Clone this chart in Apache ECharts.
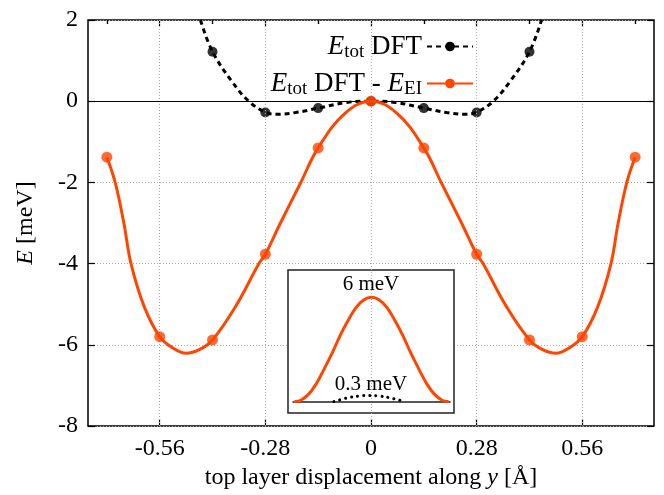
<!DOCTYPE html>
<html>
<head>
<meta charset="utf-8">
<script src="https://cdn.jsdelivr.net/npm/echarts@6/dist/echarts.min.js"></script>
<style>
html,body{margin:0;padding:0;background:#fff;}
#chart{width:664px;height:495px;}
</style>
</head>
<body>
<div id="chart"></div>
<script>
// tick labels / grid positions
var majorTicks = [-0.56, -0.28, 0, 0.28, 0.56];
var minorTicks = [-0.7, -0.42, -0.14, 0.14, 0.42, 0.7];

// computed points
var eiX   = [-0.70, -0.56, -0.42, -0.28, -0.14, 0, 0.14, 0.28, 0.42, 0.56, 0.70];
var eiY   = [-1.38, -5.80, -5.88, -3.77, -1.15, 0, -1.15, -3.77, -5.88, -5.80, -1.38];
var dftX  = [-0.42, -0.28, -0.14, 0, 0.14, 0.28, 0.42];
var dftY  = [1.22, -0.28, -0.17, 0, -0.17, -0.28, 1.22];

// fitted curves
var eiFitX  = [-0.70, -0.678, -0.655, -0.636, -0.601, -0.56, -0.525, -0.49, -0.455, -0.42, -0.359, -0.297, -0.28, -0.24, -0.187, -0.14, -0.069, 0,
               0.069, 0.14, 0.187, 0.24, 0.28, 0.297, 0.359, 0.42, 0.455, 0.49, 0.525, 0.56, 0.601, 0.636, 0.655, 0.678, 0.70];
var eiFitY  = [-1.38, -2.0, -3.0, -4.0, -5.06, -5.80, -6.08, -6.21, -6.12, -5.88, -5.06, -4.0, -3.77, -3.0, -2.02, -1.15, -0.30, 0,
               -0.30, -1.15, -2.02, -3.0, -3.77, -4.0, -5.06, -5.88, -6.12, -6.21, -6.08, -5.80, -5.06, -4.0, -3.0, -2.0, -1.38];
var dftFitX = [-0.452, -0.42, -0.368, -0.324, -0.28, -0.249, -0.2, -0.14, -0.064, 0, 0.064, 0.14, 0.2, 0.249, 0.28, 0.324, 0.368, 0.42, 0.452];
var dftFitY = [2.0, 1.22, 0.48, 0.0, -0.27, -0.32, -0.28, -0.17, -0.03, 0, -0.03, -0.17, -0.28, -0.32, -0.27, 0.0, 0.48, 1.22, 2.0];

// inset barriers
var insetEiX  = [-0.97, -0.9, -0.8, -0.7, -0.6, -0.5, -0.4, -0.3, -0.2, -0.1, 0, 0.1, 0.2, 0.3, 0.4, 0.5, 0.6, 0.7, 0.8, 0.9, 0.97];
var insetEiY  = [0, 0.08, 0.43, 1.05, 1.9, 2.8, 3.8, 4.65, 5.4, 5.85, 6.0, 5.85, 5.4, 4.65, 3.8, 2.8, 1.9, 1.05, 0.43, 0.08, 0];
var insetDftX = [-0.48, -0.32, -0.16, -0.03, 0.1, 0.25, 0.42];
var insetDftY = [0, 0.2, 0.32, 0.35, 0.32, 0.2, 0];

function pairs(xs, ys) {
    var out = [];
    for (var i = 0; i < xs.length; i++) out.push([xs[i], ys[i]]);
    return out;
}

var FONT = 'Liberation Serif';
var ORANGE = '#ff4500';
var rich = {
    i: {fontFamily: FONT, fontStyle: 'italic', fontSize: 27, color: '#000'},
    s: {fontFamily: FONT, fontSize: 19, color: '#000', padding: [11, 0, 0, 0]},
    n: {fontFamily: FONT, fontSize: 27, color: '#000'}
};
var legendNames = {
    'Etot DFT': '{i|E}{s|tot}{n| DFT}',
    'Etot DFT - EEI': '{i|E}{s|tot}{n| DFT - }{i|E}{s|EI}'
};
var titleRich = {
    n: {fontFamily: FONT, fontSize: 24, color: '#000'},
    i: {fontFamily: FONT, fontSize: 24, fontStyle: 'italic', color: '#000'}
};
var tick = {inside: true, length: 7, lineStyle: {color: '#000', width: 1.2}};
var minorTick = {inside: true, length: 4, lineStyle: {color: '#000', width: 1.2}};

var chart = echarts.init(document.getElementById('chart'));

var option = {
    animation: false,
    textStyle: {fontFamily: FONT, color: '#000'},
    grid: [
        {left: 88, right: 10, top: 20, bottom: 69, show: true, borderColor: '#000', borderWidth: 1.5},
        {left: 293, right: 214, top: 280, bottom: 83}
    ],
    legend: [
        {
            data: ['Etot DFT'], right: 185, top: 28, align: 'right',
            itemWidth: 46, itemHeight: 12, itemGap: 6,
            formatter: function (n) { return legendNames[n]; },
            textStyle: {rich: rich}
        },
        {
            data: ['Etot DFT - EEI'], right: 185, top: 65, align: 'right',
            itemWidth: 46, itemHeight: 12, itemGap: 6,
            formatter: function (n) { return legendNames[n]; },
            textStyle: {rich: rich}
        }
    ],
    xAxis: [
        {
            type: 'value', gridIndex: 0, min: -0.75, max: 0.75,
            axisLine: {show: false, onZero: false},
            axisTick: Object.assign({customValues: majorTicks}, tick),
            axisLabel: {customValues: majorTicks, fontSize: 24, fontFamily: FONT, color: '#000', margin: 11},
            splitLine: {show: false},
            name: '{n|top layer displacement along }{i|y}{n| [Å]}',
            nameLocation: 'middle', nameGap: 38,
            nameTextStyle: {rich: titleRich}
        },
        {
            type: 'value', gridIndex: 0, min: -0.75, max: 0.75,
            axisLine: {show: false, onZero: false},
            axisTick: Object.assign({customValues: minorTicks}, minorTick),
            axisLabel: {show: false}, splitLine: {show: false}
        },
        {
            type: 'value', gridIndex: 0, min: -0.75, max: 0.75, position: 'top',
            axisLine: {show: false, onZero: false},
            axisTick: Object.assign({customValues: majorTicks}, tick),
            axisLabel: {show: false}, splitLine: {show: false}
        },
        {
            type: 'value', gridIndex: 0, min: -0.75, max: 0.75, position: 'top',
            axisLine: {show: false, onZero: false},
            axisTick: Object.assign({customValues: minorTicks}, minorTick),
            axisLabel: {show: false}, splitLine: {show: false}
        },
        {
            type: 'value', gridIndex: 1, min: -1, max: 1, z: 11,
            axisLine: {onZero: true, lineStyle: {color: '#222', width: 1.5}},
            axisTick: {show: false}, axisLabel: {show: false}, splitLine: {show: false}
        }
    ],
    yAxis: [
        {
            type: 'value', gridIndex: 0, min: -8, max: 2, interval: 2,
            axisLine: {show: false, onZero: false},
            axisTick: tick,
            axisLabel: {fontSize: 24, fontFamily: FONT, color: '#000', margin: 10},
            splitLine: {show: true, lineStyle: {color: '#aaa', type: [1, 2], width: 1}},
            name: '{i|E}{n| [meV]}',
            nameLocation: 'middle', nameGap: 50,
            nameTextStyle: {rich: titleRich}
        },
        {
            type: 'value', gridIndex: 0, min: -8, max: 2, interval: 2, position: 'right',
            axisLine: {show: false, onZero: false},
            axisTick: tick,
            axisLabel: {show: false}, splitLine: {show: false}
        },
        {
            type: 'value', gridIndex: 1, min: -0.6, max: 7, show: false
        }
    ],
    graphic: [
        {
            type: 'rect', z: 5,
            shape: {x: 288, y: 270, width: 166, height: 143},
            style: {fill: '#fff', stroke: '#222', lineWidth: 1.5}
        },
        {
            type: 'text', z: 12, x: 371, y: 284,
            style: {text: '6 meV', font: '21px "Liberation Serif"', fill: '#000', align: 'center', verticalAlign: 'middle'}
        },
        {
            type: 'text', z: 12, x: 371, y: 384,
            style: {text: '0.3 meV', font: '21px "Liberation Serif"', fill: '#000', align: 'center', verticalAlign: 'middle'}
        }
    ],
    series: [
        {
            name: 'grid', type: 'line', xAxisIndex: 0, yAxisIndex: 0, z: 1,
            data: [[0, 0]], symbol: 'none', lineStyle: {opacity: 0}, silent: true,
            markLine: {
                silent: true, symbol: 'none', label: {show: false},
                lineStyle: {color: '#aaa', type: [1, 2], width: 1},
                data: majorTicks.map(function (v) { return {xAxis: v}; }).concat([
                    {yAxis: 0, lineStyle: {color: '#000', type: 'solid', width: 1.2}}
                ])
            }
        },
        {
            name: 'Etot DFT', type: 'line', xAxisIndex: 0, yAxisIndex: 0, z: 3,
            data: pairs(dftFitX, dftFitY), smooth: 0.4,
            symbol: 'circle', symbolSize: 10, showSymbol: false,
            itemStyle: {color: '#000'},
            lineStyle: {color: '#000', width: 3, type: [5, 4]}
        },
        {
            name: 'dftPts', type: 'scatter', xAxisIndex: 0, yAxisIndex: 0, z: 4,
            data: pairs(dftX, dftY), symbol: 'circle', symbolSize: 10,
            itemStyle: {color: '#000'}
        },
        {
            name: 'Etot DFT - EEI', type: 'line', xAxisIndex: 0, yAxisIndex: 0, z: 5,
            data: pairs(eiFitX, eiFitY), smooth: 0.4,
            symbol: 'circle', symbolSize: 10, showSymbol: false,
            itemStyle: {color: ORANGE},
            lineStyle: {color: ORANGE, width: 3}
        },
        {
            name: 'eiPts', type: 'scatter', xAxisIndex: 0, yAxisIndex: 0, z: 6,
            data: pairs(eiX, eiY), symbol: 'circle', symbolSize: 11,
            itemStyle: {color: ORANGE}
        },
        {
            name: 'insetEI', type: 'line', xAxisIndex: 4, yAxisIndex: 2, z: 12,
            data: pairs(insetEiX, insetEiY), smooth: 0.4, showSymbol: false, clip: false,
            lineStyle: {color: ORANGE, width: 3, cap: 'round'}
        },
        {
            name: 'insetDFT', type: 'line', xAxisIndex: 4, yAxisIndex: 2, z: 12,
            data: pairs(insetDftX, insetDftY), smooth: 0.4, showSymbol: false, clip: false,
            lineStyle: {color: '#000', width: 3, type: [0.1, 6], cap: 'round'}
        }
    ]
};

chart.setOption(option);
window.addEventListener('resize', function () {
    chart.resize();
});
</script>
</body>
</html>
